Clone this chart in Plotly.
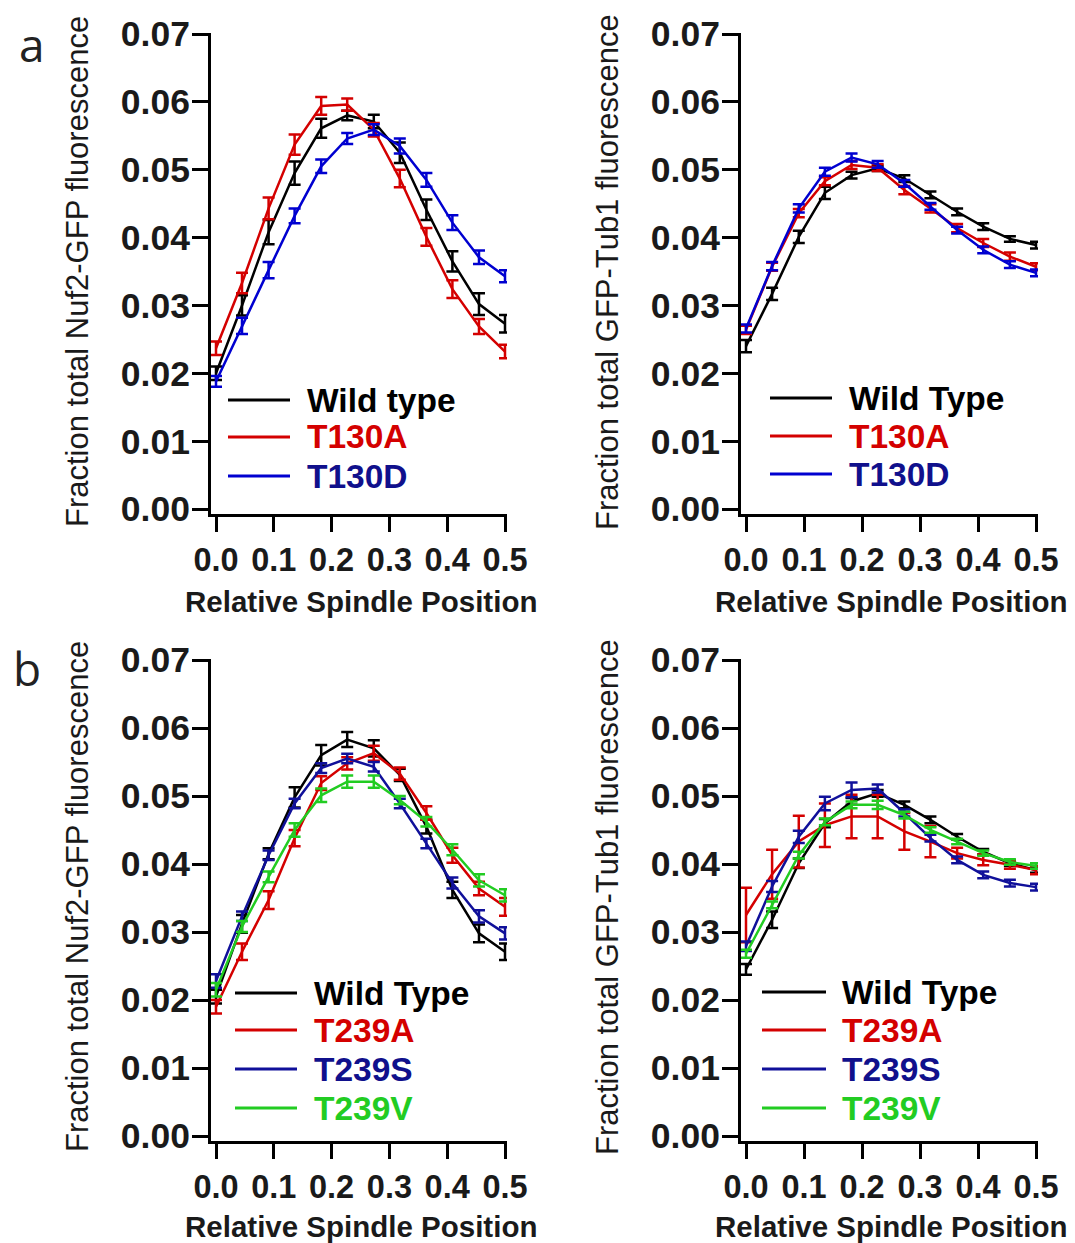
import plotly.graph_objects as go

# ---------------- data ----------------
positions = [0.0, 0.045, 0.091, 0.136, 0.182, 0.227, 0.273, 0.318, 0.364, 0.409, 0.455, 0.5]
x_ticks = [0.0, 0.1, 0.2, 0.3, 0.4, 0.5]
x_tick_labels = ["0.0", "0.1", "0.2", "0.3", "0.4", "0.5"]
y_ticks = [0.0, 0.01, 0.02, 0.03, 0.04, 0.05, 0.06, 0.07]
y_tick_labels = ["0.00", "0.01", "0.02", "0.03", "0.04", "0.05", "0.06", "0.07"]

# panel a, Nuf2-GFP
a_nuf2_wt = [0.0200, 0.0300, 0.0408, 0.0495, 0.0561, 0.0580, 0.0571, 0.0525, 0.0441, 0.0365, 0.0302, 0.0273]
a_nuf2_wt_err = [0.0010, 0.0015, 0.0018, 0.0017, 0.0014, 0.0007, 0.0010, 0.0015, 0.0015, 0.0015, 0.0016, 0.0013]
a_nuf2_t130a = [0.0237, 0.0333, 0.0443, 0.0537, 0.0594, 0.0596, 0.0559, 0.0487, 0.0401, 0.0324, 0.0269, 0.0232]
a_nuf2_t130a_err = [0.0010, 0.0015, 0.0016, 0.0015, 0.0013, 0.0009, 0.0010, 0.0013, 0.0013, 0.0013, 0.0011, 0.0010]
a_nuf2_t130d = [0.0188, 0.0270, 0.0352, 0.0432, 0.0505, 0.0546, 0.0559, 0.0535, 0.0485, 0.0422, 0.0371, 0.0343]
a_nuf2_t130d_err = [0.0008, 0.0012, 0.0012, 0.0011, 0.0010, 0.0008, 0.0008, 0.0011, 0.0010, 0.0011, 0.0010, 0.0009]

# panel a, GFP-Tub1
a_tub1_wt = [0.0240, 0.0317, 0.0401, 0.0466, 0.0492, 0.0502, 0.0487, 0.0463, 0.0438, 0.0416, 0.0398, 0.0389]
a_tub1_wt_err = [0.0009, 0.0009, 0.0009, 0.0009, 0.0005, 0.0004, 0.0005, 0.0005, 0.0005, 0.0005, 0.0004, 0.0005]
a_tub1_t130a = [0.0264, 0.0357, 0.0436, 0.0483, 0.0507, 0.0503, 0.0470, 0.0443, 0.0414, 0.0392, 0.0372, 0.0357]
a_tub1_t130a_err = [0.0006, 0.0006, 0.0006, 0.0006, 0.0006, 0.0005, 0.0006, 0.0006, 0.0006, 0.0006, 0.0006, 0.0005]
a_tub1_t130d = [0.0266, 0.0358, 0.0443, 0.0497, 0.0518, 0.0508, 0.0480, 0.0446, 0.0411, 0.0382, 0.0360, 0.0348]
a_tub1_t130d_err = [0.0006, 0.0006, 0.0006, 0.0006, 0.0006, 0.0005, 0.0005, 0.0005, 0.0005, 0.0005, 0.0005, 0.0005]

# panel b, Nuf2-GFP
b_nuf2_wt = [0.0205, 0.0312, 0.0415, 0.0498, 0.0560, 0.0583, 0.0570, 0.0531, 0.0455, 0.0362, 0.0298, 0.0271]
b_nuf2_wt_err = [0.0010, 0.0013, 0.0008, 0.0015, 0.0015, 0.0011, 0.0012, 0.0009, 0.0010, 0.0012, 0.0013, 0.0012]
b_nuf2_t239a = [0.0190, 0.0271, 0.0347, 0.0438, 0.0519, 0.0548, 0.0563, 0.0533, 0.0475, 0.0413, 0.0364, 0.0337]
b_nuf2_t239a_err = [0.0010, 0.0012, 0.0013, 0.0012, 0.0010, 0.0009, 0.0011, 0.0009, 0.0010, 0.0011, 0.0010, 0.0013]
b_nuf2_t239s = [0.0228, 0.0323, 0.0413, 0.0489, 0.0541, 0.0555, 0.0543, 0.0489, 0.0430, 0.0372, 0.0323, 0.0298]
b_nuf2_t239s_err = [0.0010, 0.0007, 0.0007, 0.0007, 0.0007, 0.0007, 0.0007, 0.0007, 0.0007, 0.0008, 0.0009, 0.0009]
b_nuf2_t239v = [0.0215, 0.0308, 0.0381, 0.0450, 0.0501, 0.0521, 0.0521, 0.0494, 0.0462, 0.0421, 0.0376, 0.0354]
b_nuf2_t239v_err = [0.0010, 0.0008, 0.0008, 0.0010, 0.0010, 0.0009, 0.0009, 0.0006, 0.0007, 0.0008, 0.0009, 0.0009]

# panel b, GFP-Tub1
b_tub1_wt = [0.0245, 0.0318, 0.0401, 0.0460, 0.0492, 0.0504, 0.0487, 0.0465, 0.0440, 0.0418, 0.0401, 0.0391]
b_tub1_wt_err = [0.0008, 0.0012, 0.0007, 0.0006, 0.0005, 0.0005, 0.0005, 0.0005, 0.0004, 0.0004, 0.0004, 0.0004]
b_tub1_t239a = [0.0325, 0.0385, 0.0433, 0.0457, 0.0470, 0.0470, 0.0448, 0.0433, 0.0416, 0.0406, 0.0399, 0.0391]
b_tub1_t239a_err = [0.0040, 0.0036, 0.0038, 0.0032, 0.0032, 0.0032, 0.0027, 0.0023, 0.0008, 0.0008, 0.0006, 0.0006]
b_tub1_t239s = [0.0279, 0.0367, 0.0440, 0.0489, 0.0509, 0.0511, 0.0475, 0.0438, 0.0406, 0.0384, 0.0372, 0.0366]
b_tub1_t239s_err = [0.0007, 0.0008, 0.0009, 0.0010, 0.0011, 0.0006, 0.0005, 0.0005, 0.0005, 0.0005, 0.0005, 0.0005]
b_tub1_t239v = [0.0268, 0.0340, 0.0413, 0.0462, 0.0487, 0.0487, 0.0472, 0.0450, 0.0433, 0.0416, 0.0403, 0.0397]
b_tub1_t239v_err = [0.0006, 0.0005, 0.0005, 0.0005, 0.0005, 0.0006, 0.0005, 0.0004, 0.0004, 0.0004, 0.0004, 0.0004]

# ---------------- style ----------------
OFF = 8  # page body margin
W, H = 1075 - OFF, 1243 - OFF
BLACK = "#000000"
RED = "#D40000"
BLUE_A = "#0000D0"
BLUE_B = "#10109A"
GREEN = "#22CC22"
NAVY_TXT = "#10108C"
FONT = "Liberation Sans"


def px(xp):
    return (xp - OFF) / W


def py(yp):
    return 1 - (yp - OFF) / H


# panel pixel geometry in window pixels: (left, right, top, bottom)
panels = {
    "1": (211, 507, 33, 514),
    "2": (741, 1038, 33, 514),
    "3": (211, 507, 659, 1141),
    "4": (741, 1038, 659, 1141),
}
zero_px = {"1": (216, 505, 509), "2": (746, 1036, 509), "3": (216, 505, 1136), "4": (746, 1036, 1136)}

fig = go.Figure()


def add_series(ax, y, err, color, width=2.5):
    fig.add_trace(go.Scatter(
        x=positions, y=y, mode="lines",
        line=dict(color=color, width=width),
        error_y=dict(type="data", array=err, visible=True, color=color, thickness=2.5, width=6),
        xaxis="x" + ("" if ax == "1" else ax), yaxis="y" + ("" if ax == "1" else ax),
        showlegend=False, hoverinfo="skip",
    ))


add_series("1", a_nuf2_wt, a_nuf2_wt_err, BLACK)
add_series("1", a_nuf2_t130a, a_nuf2_t130a_err, RED)
add_series("1", a_nuf2_t130d, a_nuf2_t130d_err, BLUE_A)

add_series("2", a_tub1_wt, a_tub1_wt_err, BLACK)
add_series("2", a_tub1_t130a, a_tub1_t130a_err, RED)
add_series("2", a_tub1_t130d, a_tub1_t130d_err, BLUE_A)

add_series("3", b_nuf2_wt, b_nuf2_wt_err, BLACK)
add_series("3", b_nuf2_t239a, b_nuf2_t239a_err, RED)
add_series("3", b_nuf2_t239s, b_nuf2_t239s_err, BLUE_B)
add_series("3", b_nuf2_t239v, b_nuf2_t239v_err, GREEN)

add_series("4", b_tub1_wt, b_tub1_wt_err, BLACK)
add_series("4", b_tub1_t239a, b_tub1_t239a_err, RED)
add_series("4", b_tub1_t239s, b_tub1_t239s_err, BLUE_B)
add_series("4", b_tub1_t239v, b_tub1_t239v_err, GREEN)

layout = dict(
    width=W, height=H,
    margin=dict(l=0, r=0, t=0, b=0, pad=0, autoexpand=False),
    paper_bgcolor="white", plot_bgcolor="white",
    showlegend=False,
)

xtickfont = dict(family=FONT, size=32.5, color="#1a1a1a", weight="bold")
ytickfont = dict(family=FONT, size=35.5, color="#1a1a1a", weight="bold")
for k, (l, r, t, b) in panels.items():
    x0p, x5p, y0p = zero_px[k]
    sx = (x5p - x0p) / 0.5
    sy = (y0p - (t + 1)) / 0.07
    xr = [-(x0p - l) / sx, 0.5 + (r - x5p) / sx]
    yr = [-(b - y0p) / sy, 0.07 + 1 / sy]
    xa = "xaxis" + ("" if k == "1" else k)
    ya = "yaxis" + ("" if k == "1" else k)
    layout[xa] = dict(
        domain=[px(l), px(r)], range=xr, anchor="y" + ("" if k == "1" else k),
        tickmode="array", tickvals=x_ticks, ticktext=x_tick_labels,
        showline=True, linecolor=BLACK, linewidth=3, ticks="outside", ticklen=15,
        tickwidth=3, tickcolor=BLACK, showgrid=False, zeroline=False, automargin=False,
        tickfont=xtickfont, fixedrange=True,
    )
    layout[ya] = dict(
        domain=[py(b), py(t)], range=yr, anchor="x" + ("" if k == "1" else k),
        tickmode="array", tickvals=y_ticks, ticktext=y_tick_labels,
        showline=True, linecolor=BLACK, linewidth=3, ticks="outside", ticklen=16,
        tickwidth=3, tickcolor=BLACK, showgrid=False, zeroline=False, automargin=False,
        tickfont=ytickfont, fixedrange=True, ticklabelstandoff=-5,
    )

fig.update_layout(**layout)

annotations = []
shapes = []

# axis titles
xtitle_font = dict(family=FONT, size=29.5, color="#1a1a1a", weight="bold")
ytitle_font = dict(family=FONT, size=31, color="#1a1a1a")
for cx, cy in [(361, 601), (891, 601), (361, 1226), (891, 1226)]:
    annotations.append(dict(text="Relative Spindle Position", x=px(cx), y=py(cy), xref="paper", yref="paper",
                            showarrow=False, font=xtitle_font, xanchor="center", yanchor="middle"))
for cx, cy, txt in [(77, 272, "Fraction total Nuf2-GFP fluorescence"),
                    (607, 272, "Fraction total GFP-Tub1 fluorescence"),
                    (77, 897, "Fraction total Nuf2-GFP fluorescence"),
                    (607, 897, "Fraction total GFP-Tub1 fluorescence")]:
    annotations.append(dict(text=txt, x=px(cx), y=py(cy), xref="paper", yref="paper", textangle=-90,
                            showarrow=False, font=ytitle_font, xanchor="center", yanchor="middle"))

# panel letters
for cx, cy, txt in [(32, 44, "a"), (27, 668, "b")]:
    annotations.append(dict(text=txt, x=px(cx), y=py(cy), xref="paper", yref="paper", showarrow=False,
                            font=dict(family="Open Sans", size=46, color="#222222"),
                            xanchor="center", yanchor="middle"))

# legends
legend_font_size = 33.5
legends = [
    (228, 290, 305, [(400, "Wild type", BLACK, BLACK), (437, "T130A", RED, RED), (476, "T130D", BLUE_A, NAVY_TXT)]),
    (770, 832, 847, [(398, "Wild Type", BLACK, BLACK), (436, "T130A", RED, RED), (474, "T130D", BLUE_A, NAVY_TXT)]),
    (235, 297, 312, [(993, "Wild Type", BLACK, BLACK), (1030, "T239A", RED, RED), (1069, "T239S", BLUE_B, NAVY_TXT),
                     (1108, "T239V", GREEN, GREEN)]),
    (762, 826, 840, [(992, "Wild Type", BLACK, BLACK), (1030, "T239A", RED, RED), (1069, "T239S", BLUE_B, NAVY_TXT),
                     (1108, "T239V", GREEN, GREEN)]),
]
for lx0, lx1, tx, items in legends:
    for yy, txt, lc, tc in items:
        shapes.append(dict(type="line", xref="paper", yref="paper", x0=px(lx0), x1=px(lx1), y0=py(yy), y1=py(yy),
                           line=dict(color=lc, width=3)))
        annotations.append(dict(text=txt, x=px(tx), y=py(yy), xref="paper", yref="paper", showarrow=False,
                                font=dict(family=FONT, size=legend_font_size, color=tc, weight="bold"),
                                xanchor="left", yanchor="middle"))

fig.update_layout(annotations=annotations, shapes=shapes)
fig.write_html("out.html")
